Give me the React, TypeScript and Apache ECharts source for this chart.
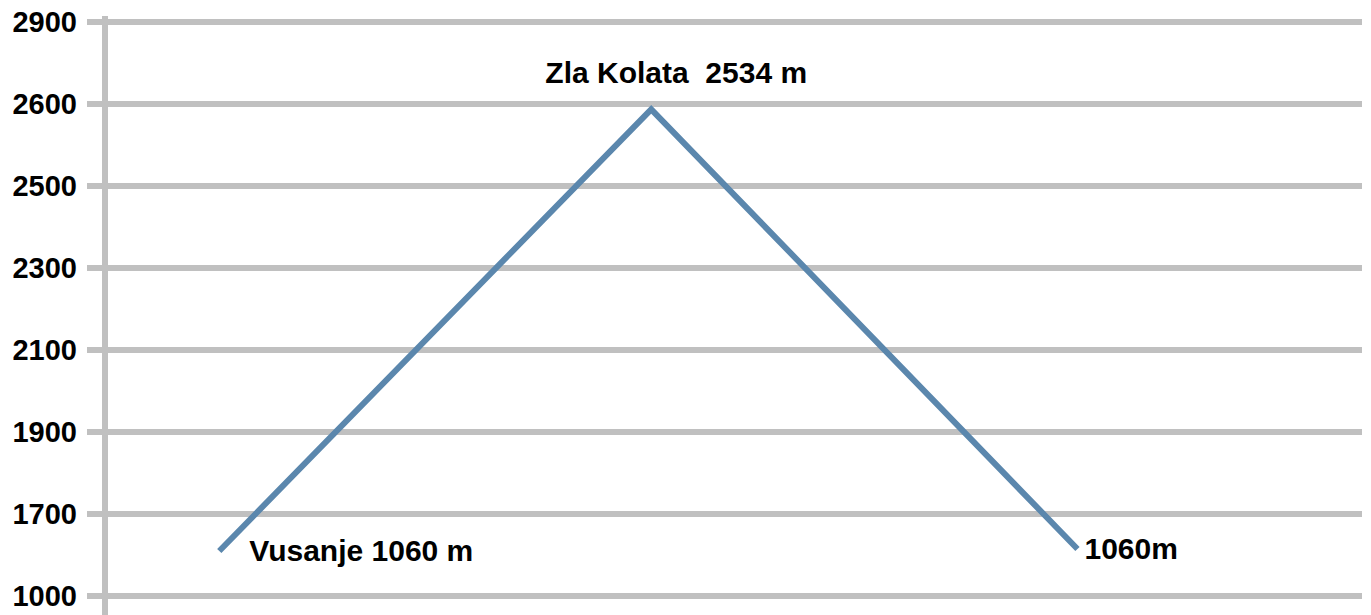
import React, { useEffect, useRef } from "react";
import * as echarts from "echarts";

// y-axis tick labels (equally spaced on the chart, not proportional)
const yTickLabels = [1000, 1700, 1900, 2100, 2300, 2500, 2600, 2900];
// route points
const pointNames = ["Vusanje 1060 m", "Zla Kolata  2534 m", "1060m"];
const distance = [1.0, 4.78, 8.51];
// elevation as read against the drawn axis (m)
const elevationOnAxis = [1384, 2593, 1401];

// map an elevation to its position on the non-uniform axis
function toAxis(v: number): number {
  for (let i = 0; i < yTickLabels.length - 1; i++) {
    const a = yTickLabels[i];
    const b = yTickLabels[i + 1];
    if (v >= a && v <= b) return i + (v - a) / (b - a);
  }
  return v < yTickLabels[0] ? 0 : yTickLabels.length - 1;
}

const FONT = "'Liberation Sans', Arial, sans-serif";
const GRID_COLOR = "#c0c0c0";
const LINE_COLOR = "#5b87ad";

export default function App() {
  const ref = useRef<HTMLDivElement>(null);
  useEffect(() => {
    document.body.style.margin = "0";
    const chart = echarts.init(ref.current!, null, { renderer: "svg" });
    const labelCfg = [
      { position: "right", distance: 30 },
      { position: "top", distance: 22, offset: [25, 0] },
      { position: "right", distance: 7 },
    ];
    chart.setOption({
      animation: false,
      backgroundColor: "#ffffff",
      grid: { left: 105, right: 9, top: 21.5, bottom: 19, containLabel: false },
      xAxis: {
        type: "value",
        min: 0,
        max: 11,
        show: false,
      },
      yAxis: {
        type: "value",
        min: 0,
        max: yTickLabels.length - 1,
        interval: 1,
        axisLine: { show: true, lineStyle: { color: GRID_COLOR, width: 6 } },
        axisTick: { show: true, length: 18, lineStyle: { color: GRID_COLOR, width: 6 } },
        splitLine: { show: true, lineStyle: { color: GRID_COLOR, width: 6 } },
        axisLabel: {
          margin: 28,
          fontFamily: FONT,
          fontWeight: "bold",
          fontSize: 29,
          color: "#000",
          formatter: (v: number) => String(yTickLabels[Math.round(v)] ?? ""),
        },
      },
      graphic: [
        {
          type: "rect",
          shape: { x: 102, y: 590, width: 6, height: 30 },
          style: { fill: GRID_COLOR },
          silent: true,
        },
        {
          type: "rect",
          shape: { x: 102, y: 16, width: 6, height: 10 },
          style: { fill: GRID_COLOR },
          silent: true,
        },
      ],
      series: [
        {
          type: "line",
          data: distance.map((d, i) => ({
            value: [d, toAxis(elevationOnAxis[i])],
            name: pointNames[i],
            label: {
              show: true,
              formatter: pointNames[i],
              ...labelCfg[i],
            },
          })),
          symbol: "circle",
          symbolSize: 0,
          showSymbol: true,
          lineStyle: { color: LINE_COLOR, width: 6, join: "miter" },
          itemStyle: { color: LINE_COLOR },
          label: {
            fontFamily: FONT,
            fontWeight: "bold",
            fontSize: 30,
            color: "#000",
          },
        },
      ],
    });
    return () => chart.dispose();
  }, []);
  return <div ref={ref} style={{ width: 1371, height: 615 }} />;
}
